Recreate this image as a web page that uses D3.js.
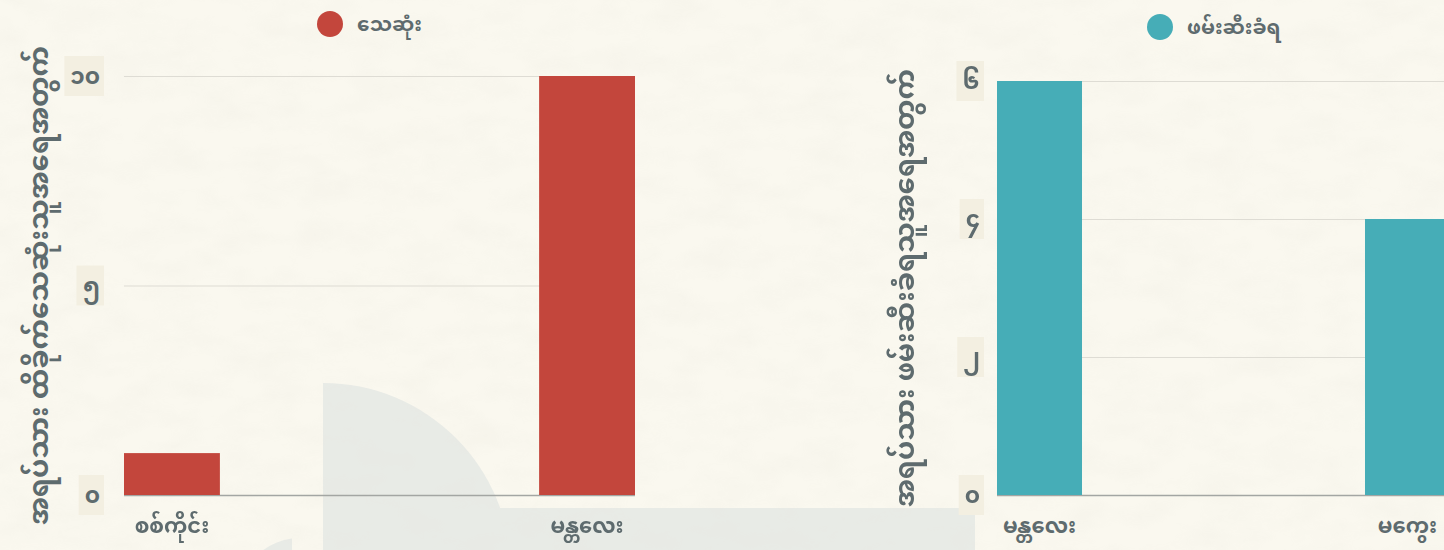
<!DOCTYPE html>
<html>
<head>
<meta charset="utf-8">
<script src="https://cdn.jsdelivr.net/npm/d3@7"></script>
<style>
  html, body { margin: 0; padding: 0; background: #faf7ee; overflow: hidden; }
  svg { display: block; }
  text { font-family: "Noto Sans Myanmar", "Padauk", "Myanmar Text", "Noto Sans", sans-serif; font-weight: 700; fill: #5e6b6e; }
</style>
</head>
<body>
<svg id="chart" width="1444" height="550"></svg>
<script>
// data
const deathRegions = ["စစ်ကိုင်း", "မန္တလေး"];
const deathValues = [1, 10];
const deathTicks = [0, 5, 10];
const arrestRegions = ["မန္တလေး", "မကွေး"];
const arrestValues = [6, 4];
const arrestTicks = [0, 2, 4, 6];
const seriesNames = ["သေဆုံး", "ဖမ်းဆီးခံရ"];
const yTitles = ["အရပ်သား ထိခိုက်သေဆုံးသူအရေအတွက်", "အရပ်သား ဖမ်းဆီးခံရသူအရေအတွက်"];
const colors = ["#c3463c", "#46adb7"];

const mmDigits = "၀၁၂၃၄၅၆၇၈၉";
const toMM = (n) => String(n).replace(/[0-9]/g, (c) => mmDigits[+c]);

const svg = d3.select("#chart");

// paper texture
const defs = svg.append("defs");
const f = defs.append("filter").attr("id", "paper").attr("x", 0).attr("y", 0).attr("width", "100%").attr("height", "100%");
f.append("feTurbulence").attr("type", "fractalNoise").attr("baseFrequency", "0.02 0.04").attr("numOctaves", 4).attr("seed", 7);
f.append("feColorMatrix").attr("values", "0 0 0 0 0.5  0 0 0 0 0.48  0 0 0 0 0.42  0 0 0 0.8 -0.3");
svg.append("rect").attr("width", 1444).attr("height", 550).attr("fill", "#faf8ef");
svg.append("rect").attr("width", 1444).attr("height", 550).attr("filter", "url(#paper)").attr("opacity", 0.12);

// background decoration
const deco = svg.append("g").attr("fill", "#e6e9e5").attr("opacity", 0.9);
deco.append("clipPath").attr("id", "qclip").append("rect").attr("x", 323).attr("y", 0).attr("width", 400).attr("height", 550);
deco.append("circle").attr("cx", 323).attr("cy", 571).attr("r", 188).attr("clip-path", "url(#qclip)");
deco.append("rect").attr("x", 323).attr("y", 508).attr("width", 652).attr("height", 42);
deco.append("clipPath").attr("id", "sclip").append("rect").attr("x", 0).attr("y", 0).attr("width", 292).attr("height", 550);
deco.append("circle").attr("cx", 300).attr("cy", 600).attr("r", 62).attr("clip-path", "url(#sclip)");

function panel(cfg) {
  const g = svg.append("g");
  const x = d3.scaleBand().domain(cfg.cats).range([cfg.x0, cfg.x1]).paddingInner(0.769).paddingOuter(0);
  const y = d3.scaleLinear().domain([0, d3.max(cfg.ticks)]).range([cfg.y0, cfg.y1]);

  // gridlines
  const yAxis = d3.axisLeft(y).tickValues(cfg.ticks).tickSize(-(cfg.x1 - cfg.x0)).tickFormat("");
  const ga = g.append("g").attr("transform", `translate(${cfg.x0},0)`).call(yAxis);
  ga.select(".domain").remove();
  ga.selectAll(".tick line").attr("stroke", (d) => (d === 0 ? "#a3a6a3" : "#dedcd4")).attr("stroke-width", (d) => (d === 0 ? 1.5 : 1.2));

  // tick labels with boxes
  const tl = g.append("g").selectAll("g").data(cfg.ticks).join("g")
    .attr("transform", (d) => `translate(${cfg.labelX},${y(d)})`);
  tl.append("text").attr("text-anchor", "end").attr("dy", "0.35em").attr("font-size", 23).text((d) => toMM(d));
  tl.each(function () {
    const b = d3.select(this).select("text").node().getBBox();
    d3.select(this).insert("rect", "text")
      .attr("x", b.x - 6).attr("y", -20).attr("width", b.width + 10).attr("height", 40)
      .attr("fill", "#f3efe1");
  });

  // bars
  g.append("g").selectAll("rect").data(cfg.vals).join("rect")
    .attr("x", (d, i) => x(cfg.cats[i]))
    .attr("y", (d) => y(d))
    .attr("width", x.bandwidth())
    .attr("height", (d) => y(0) - y(d))
    .attr("fill", cfg.color);

  // x labels
  const xAxis = d3.axisBottom(x).tickSize(0).tickPadding(23);
  const gx = g.append("g").attr("transform", `translate(0,${cfg.y0})`).call(xAxis);
  gx.select(".domain").remove();
  gx.selectAll("text").attr("font-size", 21).attr("fill", "#5e6b6e")
    .style("font-family", "\"Noto Sans Myanmar\", \"Padauk\", sans-serif").style("font-weight", 700);

  // y title
  g.append("text")
    .attr("transform", `translate(${cfg.titleX},${(cfg.y0 + cfg.y1) / 2}) rotate(-90)`)
    .attr("text-anchor", "middle").attr("dy", "0.35em").attr("font-size", 27.5)
    .text(cfg.title);

  // legend
  g.append("circle").attr("cx", cfg.legX).attr("cy", cfg.legY).attr("r", 13).attr("fill", cfg.color);
  g.append("text").attr("x", cfg.legX + 27).attr("y", cfg.legY).attr("dy", "0.35em").attr("font-size", 20).text(cfg.name);
}

panel({ cats: deathRegions, vals: deathValues, ticks: deathTicks, color: colors[0], name: seriesNames[0], title: yTitles[0],
  x0: 124, x1: 635, y0: 495, y1: 76, labelX: 100, titleX: 38, legX: 330, legY: 24 });
panel({ cats: arrestRegions, vals: arrestValues, ticks: arrestTicks, color: colors[1], name: seriesNames[1], title: yTitles[1],
  x0: 997, x1: 1450, y0: 495, y1: 81, labelX: 980, titleX: 904, legX: 1160, legY: 27 });
</script>
</body>
</html>
